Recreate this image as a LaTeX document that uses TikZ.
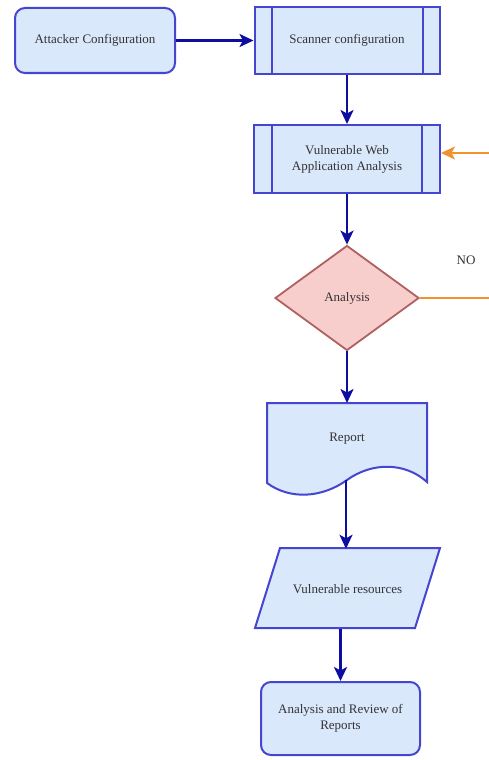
\documentclass[tikz,border=0pt]{standalone}
\usepackage{fontspec}
\setmainfont{Liberation Serif}
\usetikzlibrary{shapes.geometric,arrows.meta}
\definecolor{fillb}{HTML}{DAE8FC}
\definecolor{edgeb}{HTML}{4545D0}
\definecolor{arrb}{HTML}{0D0DA0}
\definecolor{fillr}{HTML}{F8CECC}
\definecolor{edger}{HTML}{B06060}
\definecolor{orng}{HTML}{F0922E}
\definecolor{txt}{HTML}{333333}
\begin{document}
\begin{tikzpicture}[x=1pt,y=-1pt,
  font=\fontsize{13}{16}\selectfont,
  every node/.style={text=txt},
  shapeline/.style={draw=edgeb, fill=fillb, line width=2pt},
  rbox/.style={shapeline, rounded corners=10pt, align=center, inner sep=0pt},
  pbox/.style={shapeline, align=center, inner sep=0pt},
  plain/.style={align=center, inner sep=0pt},
  flow/.style={draw=arrb, line width=2.4pt, -{Stealth[length=14pt,width=13pt,inset=3.5pt]}},
  oflow/.style={draw=orng, line width=2pt, -{Stealth[length=14pt,width=13pt,inset=3.5pt]}},
  oline/.style={draw=orng, line width=2pt}]
\useasboundingbox (0,0) rectangle (489,760);

% Attacker Configuration
\node[rbox, minimum width=160, minimum height=65] (att) at (95,40.5) {Attacker Configuration};

% Scanner configuration (predefined process)
\node[pbox, minimum width=185, minimum height=67] (scan) at (347,40.5) {Scanner configuration};
\draw[draw=edgeb, line width=2pt] ([xshift=18]scan.north west) -- ([xshift=18]scan.south west);
\draw[draw=edgeb, line width=2pt] ([xshift=-18]scan.north east) -- ([xshift=-18]scan.south east);

% Vulnerable Web Application Analysis
\node[pbox, minimum width=186, minimum height=68] (vwa) at (347,159) {Vulnerable Web\\Application Analysis};
\draw[draw=edgeb, line width=2pt] ([xshift=19]vwa.north west) -- ([xshift=19]vwa.south west);
\draw[draw=edgeb, line width=2pt] ([xshift=-19]vwa.north east) -- ([xshift=-19]vwa.south east);

% Analysis (decision)
\node[diamond, draw=edger, fill=fillr, line width=1.8pt, inner sep=0pt,
      minimum width=144, minimum height=105] (dia) at (347,298) {Analysis};

% Report (document)
\path[shapeline] (267,403) -- (427,403) -- (427,482)
   .. controls (405,462) and (372,462) .. (347,480)
   .. controls (322,498) and (290,500) .. (267,483) -- cycle;
\node[plain, minimum width=160, minimum height=72] (rep) at (347,439) {Report};
\coordinate (repb) at (346,480);

% Vulnerable resources (data)
\path[shapeline] (280,548) -- (440,548) -- (415,628) -- (255,628) -- cycle;
\node[plain, minimum width=185, minimum height=80] (vr) at (347.5,589) {Vulnerable resources};

% Analysis and Review of Reports
\node[rbox, minimum width=159, minimum height=73] (fin) at (340.5,718.5) {Analysis and Review of\\Reports};

% NO label
\node[plain] (no) at (466,260) {NO};

% connectors
\draw[flow] (att.east) -- (scan.west);
\draw[flow] (scan.south) -- (vwa.north);
\draw[flow] (vwa.south) -- (dia.north);
\draw[flow] (dia.south) -- (dia.south |- 0,403);
\draw[flow] (repb) -- (repb |- vr.north);
\draw[flow] (fin.north |- vr.south) -- (fin.north);

% orange feedback
\coordinate (o1) at (490,153);
\coordinate (o2) at (490,298);
\draw[oline] (dia.east) -- (o2);
\draw[oflow] (o1) -- (o1 -| vwa.east);
\end{tikzpicture}
\end{document}
